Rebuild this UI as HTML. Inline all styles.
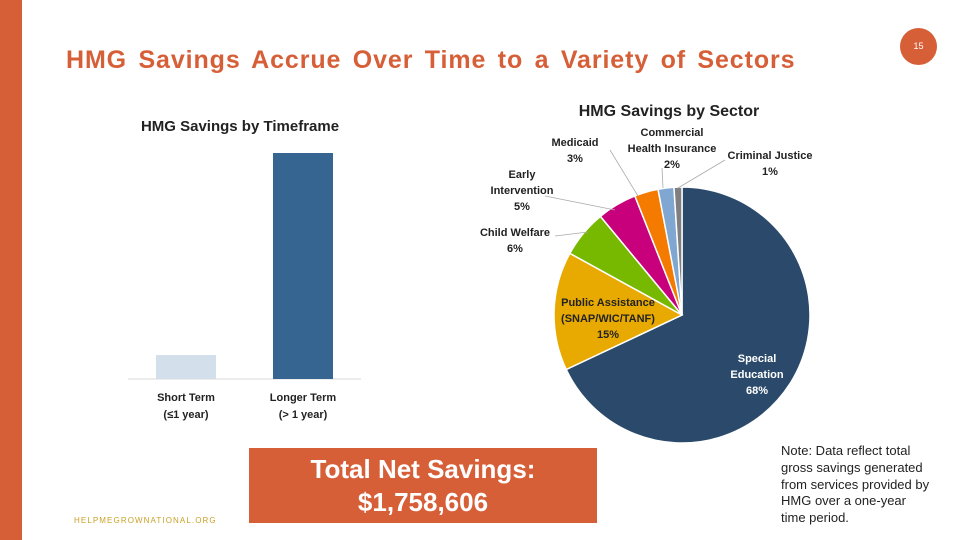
<!DOCTYPE html>
<html><head><meta charset="utf-8"><style>
body{margin:0;width:960px;height:540px;background:#fff;position:relative;overflow:hidden;font-family:"Liberation Sans",sans-serif}
.abs{position:absolute}
</style></head><body>
<div class="abs" style="left:0;top:0;width:22px;height:540px;background:#d65f38"></div>
<div class="abs" style="left:66px;top:46px;font-size:25px;color:#d65f38;font-weight:bold;letter-spacing:0.9px;word-spacing:3.6px;white-space:nowrap">HMG Savings Accrue Over Time to a Variety of Sectors</div>
<div class="abs" style="left:900px;top:28px;width:37px;height:37px;border-radius:50%;background:#d65f38;color:#fff;font-size:9px;text-align:center;line-height:37px">15</div>
<div class="abs" style="left:74px;top:516px;font-size:8px;letter-spacing:1.1px;color:#c9a227">HELPMEGROWNATIONAL.ORG</div>
<div class="abs" style="left:249px;top:448px;width:348px;height:75px;background:#d65f38;color:#fff;font-size:26px;font-weight:bold;text-align:center;line-height:33px;padding-top:5px;box-sizing:border-box">Total Net Savings:<br>$1,758,606</div>
<div class="abs" style="left:781px;top:443px;font-size:13px;line-height:16.8px;color:#222;width:152px">Note: Data reflect total gross savings generated from services provided by HMG over a one-year time period.</div>
<svg class="abs" style="left:0;top:0" width="960" height="540">
<g id="bar" font-family="Liberation Sans, sans-serif"></g>
<g id="pie" font-family="Liberation Sans, sans-serif"></g>
</svg>
<script>
const barCats=["Short Term|(≤1 year)","Longer Term|(> 1 year)"];
const barVals=[10.6,100];
const barColors=["#d3e0ec","#376592"];
const pieCats=["Special|Education|68%","Public Assistance|(SNAP/WIC/TANF)|15%","Child Welfare|6%","Early|Intervention|5%","Medicaid|3%","Commercial|Health Insurance|2%","Criminal Justice|1%"];
const pieVals=[68,15,6,5,3,2,1];
const pieColors=["#2b4a6b","#e8aa00","#77b800","#c8007c","#f47a00","#7fa7d2","#7f7f7f"];
const NS="http://www.w3.org/2000/svg";
function mk(t,a,p){const e=document.createElementNS(NS,t);for(const k in a)e.setAttribute(k,a[k]);p.appendChild(e);return e;}
function txt(lines,x,y,lh,attrs,p){const t=mk("text",Object.assign({x:x,y:y,"text-anchor":"middle","font-size":"11","font-weight":"bold",fill:"#222"},attrs),p);lines.forEach((l,i)=>{const s=mk("tspan",{x:x,dy:i?lh:0},t);s.textContent=l;});return t;}
const bg=document.getElementById("bar");
const base=379,top0=153,maxV=100;
const yS=v=>base-(v/maxV)*(base-top0);
const bt=txt(["HMG Savings by Timeframe"],240,131,0,{"font-size":"15"},bg);

const ax=mk("line",{x1:128,x2:361,y1:base,y2:base,stroke:"#d9d9d9"},bg);

barVals.forEach((v,i)=>{const cx=186+i*117;
 const r=mk("rect",{x:cx-30,y:yS(v),width:60,height:base-yS(v),fill:barColors[i]},bg);
 
 
 const l=txt(barCats[i].split("|"),cx,401,17,{},bg);
 
 
});
const pg=document.getElementById("pie");
const cx=682,cy=315,R=128;
const pt=txt(["HMG Savings by Sector"],669,116,0,{"font-size":"16"},pg);

const tot=pieVals.reduce((a,b)=>a+b,0);
let a0=0;
const labelPos=[[757,362,"#fff"],[608,306,"#222"],[515,236,"#222"],[522,178,"#222"],[575,146,"#222"],[672,136,"#222"],[770,159,"#222"]];
const leaders=[null,null,[555,236,588,232],[545,196,615,210],[610,150,638,196],[662,168,663,188],[725,160,678,188]];
pieVals.forEach((v,i)=>{const a1=a0+v/tot*2*Math.PI;
 const p=(a)=>[cx+R*Math.sin(a),cy-R*Math.cos(a)];
 const [x0,y0]=p(a0),[x1,y1]=p(a1);
 const s=mk("path",{d:`M${cx},${cy}L${x0},${y0}A${R},${R} 0 ${a1-a0>Math.PI?1:0} 1 ${x1},${y1}Z`,fill:pieColors[i],stroke:"#fff","stroke-width":"1.5"},pg);
 
 
 if(leaders[i]){const L=leaders[i];mk("line",{x1:L[0],y1:L[1],x2:L[2],y2:L[3],stroke:"#aaa","stroke-width":"0.8"},pg);}
 const lp=labelPos[i];
 const l=txt(pieCats[i].split("|"),lp[0],lp[1],16,{fill:lp[2]},pg);
 
 
 a0=a1;});
</script>
</body></html>
